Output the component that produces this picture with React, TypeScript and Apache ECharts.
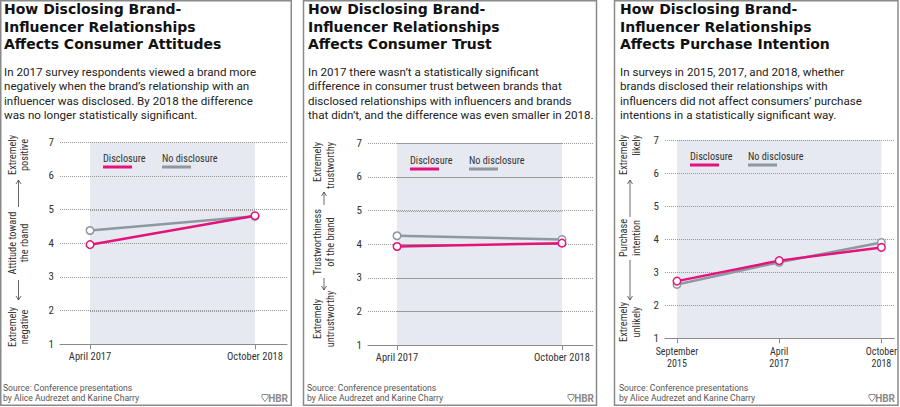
import React, { useEffect, useRef } from "react";
import * as echarts from "echarts";

// ---------- data ----------
const attitudeCategories = ["April 2017", "October 2018"];
const attitudeDisclosure = [3.96, 4.82];
const attitudeNoDisclosure = [4.38, 4.8];

const trustCategories = ["April 2017", "October 2018"];
const trustDisclosure = [3.93, 4.03];
const trustNoDisclosure = [4.25, 4.14];

const purchaseCategories = ["September\n2015", "April\n2017", "October\n2018"];
const purchaseDisclosure = [2.73, 3.35, 3.75];
const purchaseNoDisclosure = [2.63, 3.3, 3.9];

const yTicks = [1, 2, 3, 4, 5, 6, 7];

const seriesNames = ["Disclosure", "No disclosure"];

const titles = [
  "How Disclosing Brand-\nInfluencer Relationships\nAffects Consumer Attitudes",
  "How Disclosing Brand-\nInfluencer Relationships\nAffects Consumer Trust",
  "How Disclosing Brand-\nInfluencer Relationships\nAffects Purchase Intention",
];
const subtitles = [
  "In 2017 survey respondents viewed a brand more\nnegatively when the brand\u2019s relationship with an\ninfluencer was disclosed. By 2018 the difference\nwas no longer statistically significant.",
  "In 2017 there wasn\u2019t a statistically significant\ndifference in consumer trust between brands that\ndisclosed relationships with influencers and brands\nthat didn\u2019t, and the difference was even smaller in 2018.",
  "In surveys in 2015, 2017, and 2018, whether\nbrands disclosed their relationships with\ninfluencers did not affect consumers\u2019 purchase\nintentions in a statistically significant way.",
];
const sourceText = "Source: Conference presentations\nby Alice Audrezet and Karine Charry";
const yTitles = [
  { top: "Extremely\npositive", mid: "Attitude toward\nthe rband", bot: "Extremely\nnegative" },
  { top: "Extremely\ntrustworthy", mid: "Trustworthiness\nof the brand", bot: "Extremely\nuntrustworthy" },
  { top: "Extremely\nlikely", mid: "Purchase\nintention", bot: "Extremely\nunlikely" },
];

// ---------- styles ----------
const PINK = "#e5127d";
const GRAY = "#8d989f";
const SHADE = "#e6eaf0";
const GRID_COLOR = "#999999";
const FONT = 'Roboto, "Liberation Sans", sans-serif';
const FONT_T = '"DejaVu Sans", "Liberation Sans", sans-serif';
const FONT_C = '"Roboto Condensed", "Liberation Sans Narrow", sans-serif';

const panels = [
  { bx: 0.75, bw: 290.5, tx: 4, grid: { left: 60, right: 613, top: 142.3, bottom: 62.7 }, min: -0.182, max: 1.194,
    xl: { size: 10.5, lh: 12.5, margin: 6 },
    leg: { x1: 103, x2: 162, y: 158 }, yt: { cx: 18.5, top: 155, topAlign: "center", mid: 243, bot: 327, up: [207, 180], down: [280, 300] },
    hbr: 288 },
  { bx: 303.5, bw: 293, tx: 308, grid: { left: 368, right: 307, top: 143.3, bottom: 62 }, min: -0.176, max: 1.188,
    xl: { size: 10.5, lh: 12.5, margin: 6 },
    leg: { x1: 410, x2: 469, y: 160 }, yt: { cx: 324, top: 142, topAlign: "right", mid: 242, bot: 319, up: [205, 192], down: [278, 290] },
    hbr: 594 },
  { bx: 614.5, bw: 283.5, tx: 620, grid: { left: 665, right: 4, top: 140, bottom: 68.7 }, min: -0.117, max: 2.126,
    xl: { size: 10, lh: 12, margin: 7 },
    leg: { x1: 690, x2: 748, y: 156 }, yt: { cx: 630, top: 135, topAlign: "right", mid: 238, bot: 322, up: [217, 180], down: [260, 300] },
    hbr: 895 },
];

const datasets = [
  { cats: attitudeCategories, d: attitudeDisclosure, n: attitudeNoDisclosure },
  { cats: trustCategories, d: trustDisclosure, n: trustNoDisclosure },
  { cats: purchaseCategories, d: purchaseDisclosure, n: purchaseNoDisclosure },
];

function rotText(text: string, x: number, y: number, align: string) {
  return {
    type: "text",
    x,
    y,
    z: 10,
    rotation: Math.PI / 2,
    scaleX: 0.9,
    style: { text, x: 0, y: 0, textAlign: align, verticalAlign: "middle", font: `11.5px ${FONT_C}`, fill: "#333", lineHeight: 12.5 },
  };
}

function arrow(cx: number, yFrom: number, yHead: number) {
  const dir = yHead < yFrom ? 1 : -1;
  return [
    { type: "line", z: 10, shape: { x1: cx, y1: yFrom, x2: cx, y2: yHead }, style: { stroke: "#444", lineWidth: 0.8 } },
    {
      type: "polyline",
      z: 10,
      shape: { points: [[cx - 2.5, yHead + dir * 4], [cx, yHead], [cx + 2.5, yHead + dir * 4]] },
      style: { stroke: "#444", lineWidth: 0.8, fill: "none" },
    },
  ];
}

export default function App() {
  const ref = useRef<HTMLDivElement>(null);
  useEffect(() => {
    document.body.style.margin = "0";
    const chart = echarts.init(ref.current!, null, { renderer: "svg" });

    const grids: any[] = [];
    const xAxes: any[] = [];
    const yAxes: any[] = [];
    const series: any[] = [];
    const graphic: any[] = [];
    const yMin = yTicks[0];
    const yMax = yTicks[yTicks.length - 1];

    panels.forEach((p, i) => {
      const ds = datasets[i];
      const last = ds.cats.length - 1;
      grids.push({ left: p.grid.left, right: p.grid.right, top: p.grid.top, bottom: p.grid.bottom, show: false });
      const idx = ds.cats.map((_, k) => k);
      xAxes.push({
        type: "value",
        gridIndex: i,
        min: p.min,
        max: p.max,
        splitLine: { show: false },
        axisLine: { show: true, onZero: false, lineStyle: { color: "#8a8a8a", width: 1 } },
        axisTick: { show: true, customValues: idx, length: 5, lineStyle: { color: "#8a8a8a" } },
        axisLabel: {
          customValues: idx,
          formatter: (v: number) => ds.cats[Math.round(v)] ?? "",
          color: "#333",
          fontFamily: '"Roboto Condensed", sans-serif',
          fontSize: p.xl.size,
          lineHeight: p.xl.lh,
          margin: p.xl.margin,
        },
        z: 3,
      });
      yAxes.push({
        type: "value",
        gridIndex: i,
        min: yMin,
        max: yMax,
        interval: 1,
        axisLine: { show: false },
        axisTick: { show: false },
        axisLabel: { color: "#333", fontFamily: '"Roboto Condensed", sans-serif', fontSize: 11, margin: 6 },
        splitLine: { show: true, lineStyle: { color: GRID_COLOR, type: "dotted", width: 1 } },
        z: 3,
      });
      // shaded survey period band, with the dotted grid lines redrawn over it
      series.push({
        type: "custom",
        name: "period",
        xAxisIndex: i,
        yAxisIndex: i,
        silent: true,
        z: 1,
        clip: false,
        data: [[0, yMin]],
        renderItem: (_params: any, api: any) => {
          const a = api.coord([0, yMax]);
          const b = api.coord([last, yMin]);
          const children: any[] = [
            { type: "rect", shape: { x: a[0], y: a[1], width: b[0] - a[0], height: b[1] - a[1] }, style: { fill: SHADE } },
          ];
          yTicks.slice(1).forEach((v) => {
            const l = api.coord([p.min, v]);
            const r = api.coord([p.max, v]);
            children.push({
              type: "line",
              shape: { x1: a[0], y1: Math.round(l[1]) + 0.5, x2: b[0], y2: Math.round(r[1]) + 0.5 },
              style: { stroke: GRID_COLOR, lineWidth: 1, lineDash: [1, 1], fill: "none" },
            });
          });
          return { type: "group", children };
        },
      });
      const mk = (name: string, vals: number[], color: string, z: number) => ({
        type: "line",
        name,
        xAxisIndex: i,
        yAxisIndex: i,
        data: vals.map((v, k) => [k, v]),
        symbol: "circle",
        symbolSize: 7.5,
        showAllSymbol: true,
        lineStyle: { color, width: 2.5 },
        itemStyle: { color: "#fff", borderColor: color, borderWidth: 1.5 },
        z,
      });
      series.push(mk(seriesNames[1], ds.n, GRAY, 4));
      series.push(mk(seriesNames[0], ds.d, PINK, 5));

      // border
      graphic.push({
        type: "rect",
        silent: true,
        z: 10,
        shape: { x: p.bx, y: 0.75, width: p.bw, height: 404.5 },
        style: { stroke: "#8a8a8a", lineWidth: 1.5, fill: "none" },
      });
      // title
      graphic.push({
        type: "text",
        z: 10,
        style: { text: titles[i], x: p.tx, y: 0.5, font: `bold 14px ${FONT_T}`, fill: "#111", lineHeight: 17.5, verticalAlign: "top" },
      });
      graphic.push({
        type: "text",
        z: 10,
        style: { text: subtitles[i], x: p.tx, y: 64.8, font: `11.6px ${FONT}`, fill: "#222", lineHeight: 14.4, verticalAlign: "top" },
      });
      // legend
      const L = p.leg;
      graphic.push({ type: "text", z: 10, x: L.x1, y: L.y, scaleX: 0.93, style: { text: seriesNames[0], x: 0, y: 0, font: `11px ${FONT_C}`, fill: "#333", verticalAlign: "middle" } });
      graphic.push({ type: "line", z: 10, shape: { x1: L.x1, y1: L.y + 9, x2: L.x1 + 29, y2: L.y + 9 }, style: { stroke: PINK, lineWidth: 3 } });
      graphic.push({ type: "text", z: 10, x: L.x2, y: L.y, scaleX: 0.93, style: { text: seriesNames[1], x: 0, y: 0, font: `11px ${FONT_C}`, fill: "#333", verticalAlign: "middle" } });
      graphic.push({ type: "line", z: 10, shape: { x1: L.x2, y1: L.y + 9, x2: L.x2 + 29, y2: L.y + 9 }, style: { stroke: GRAY, lineWidth: 3 } });
      // y title
      const T = p.yt;
      graphic.push(rotText(yTitles[i].top, T.cx, T.top, T.topAlign));
      graphic.push(rotText(yTitles[i].mid, T.cx, T.mid, "center"));
      graphic.push(rotText(yTitles[i].bot, T.cx, T.bot, "center"));
      graphic.push(...arrow(T.cx, T.up[0], T.up[1]));
      graphic.push(...arrow(T.cx, T.down[0], T.down[1]));
      // source
      graphic.push({
        type: "text",
        z: 10,
        style: { text: sourceText, x: p.tx - 1, y: 383, font: `8.6px ${FONT}`, fill: "#555", lineHeight: 10, verticalAlign: "top" },
      });
      // HBR mark
      graphic.push({
        type: "text",
        z: 10,
        style: { text: "HBR", x: p.hbr, y: 398, font: `bold 10px ${FONT}`, fill: "#8a8a8a", textAlign: "right", verticalAlign: "middle" },
      });
      const sx = p.hbr - 26;
      graphic.push({
        type: "polygon",
        z: 10,
        shape: { points: [[sx, 394.5], [sx + 6, 394.5], [sx + 6, 397.5], [sx + 3, 401.5], [sx, 397.5]] },
        style: { stroke: "#8a8a8a", lineWidth: 1, fill: "none" },
      });
    });

    chart.setOption({
      animation: false,
      backgroundColor: "#fff",
      grid: grids,
      xAxis: xAxes,
      yAxis: yAxes,
      series,
      graphic,
    });
    return () => chart.dispose();
  }, []);
  return <div ref={ref} style={{ width: 900, height: 407, position: "absolute", left: 0, top: 0 }} />;
}
